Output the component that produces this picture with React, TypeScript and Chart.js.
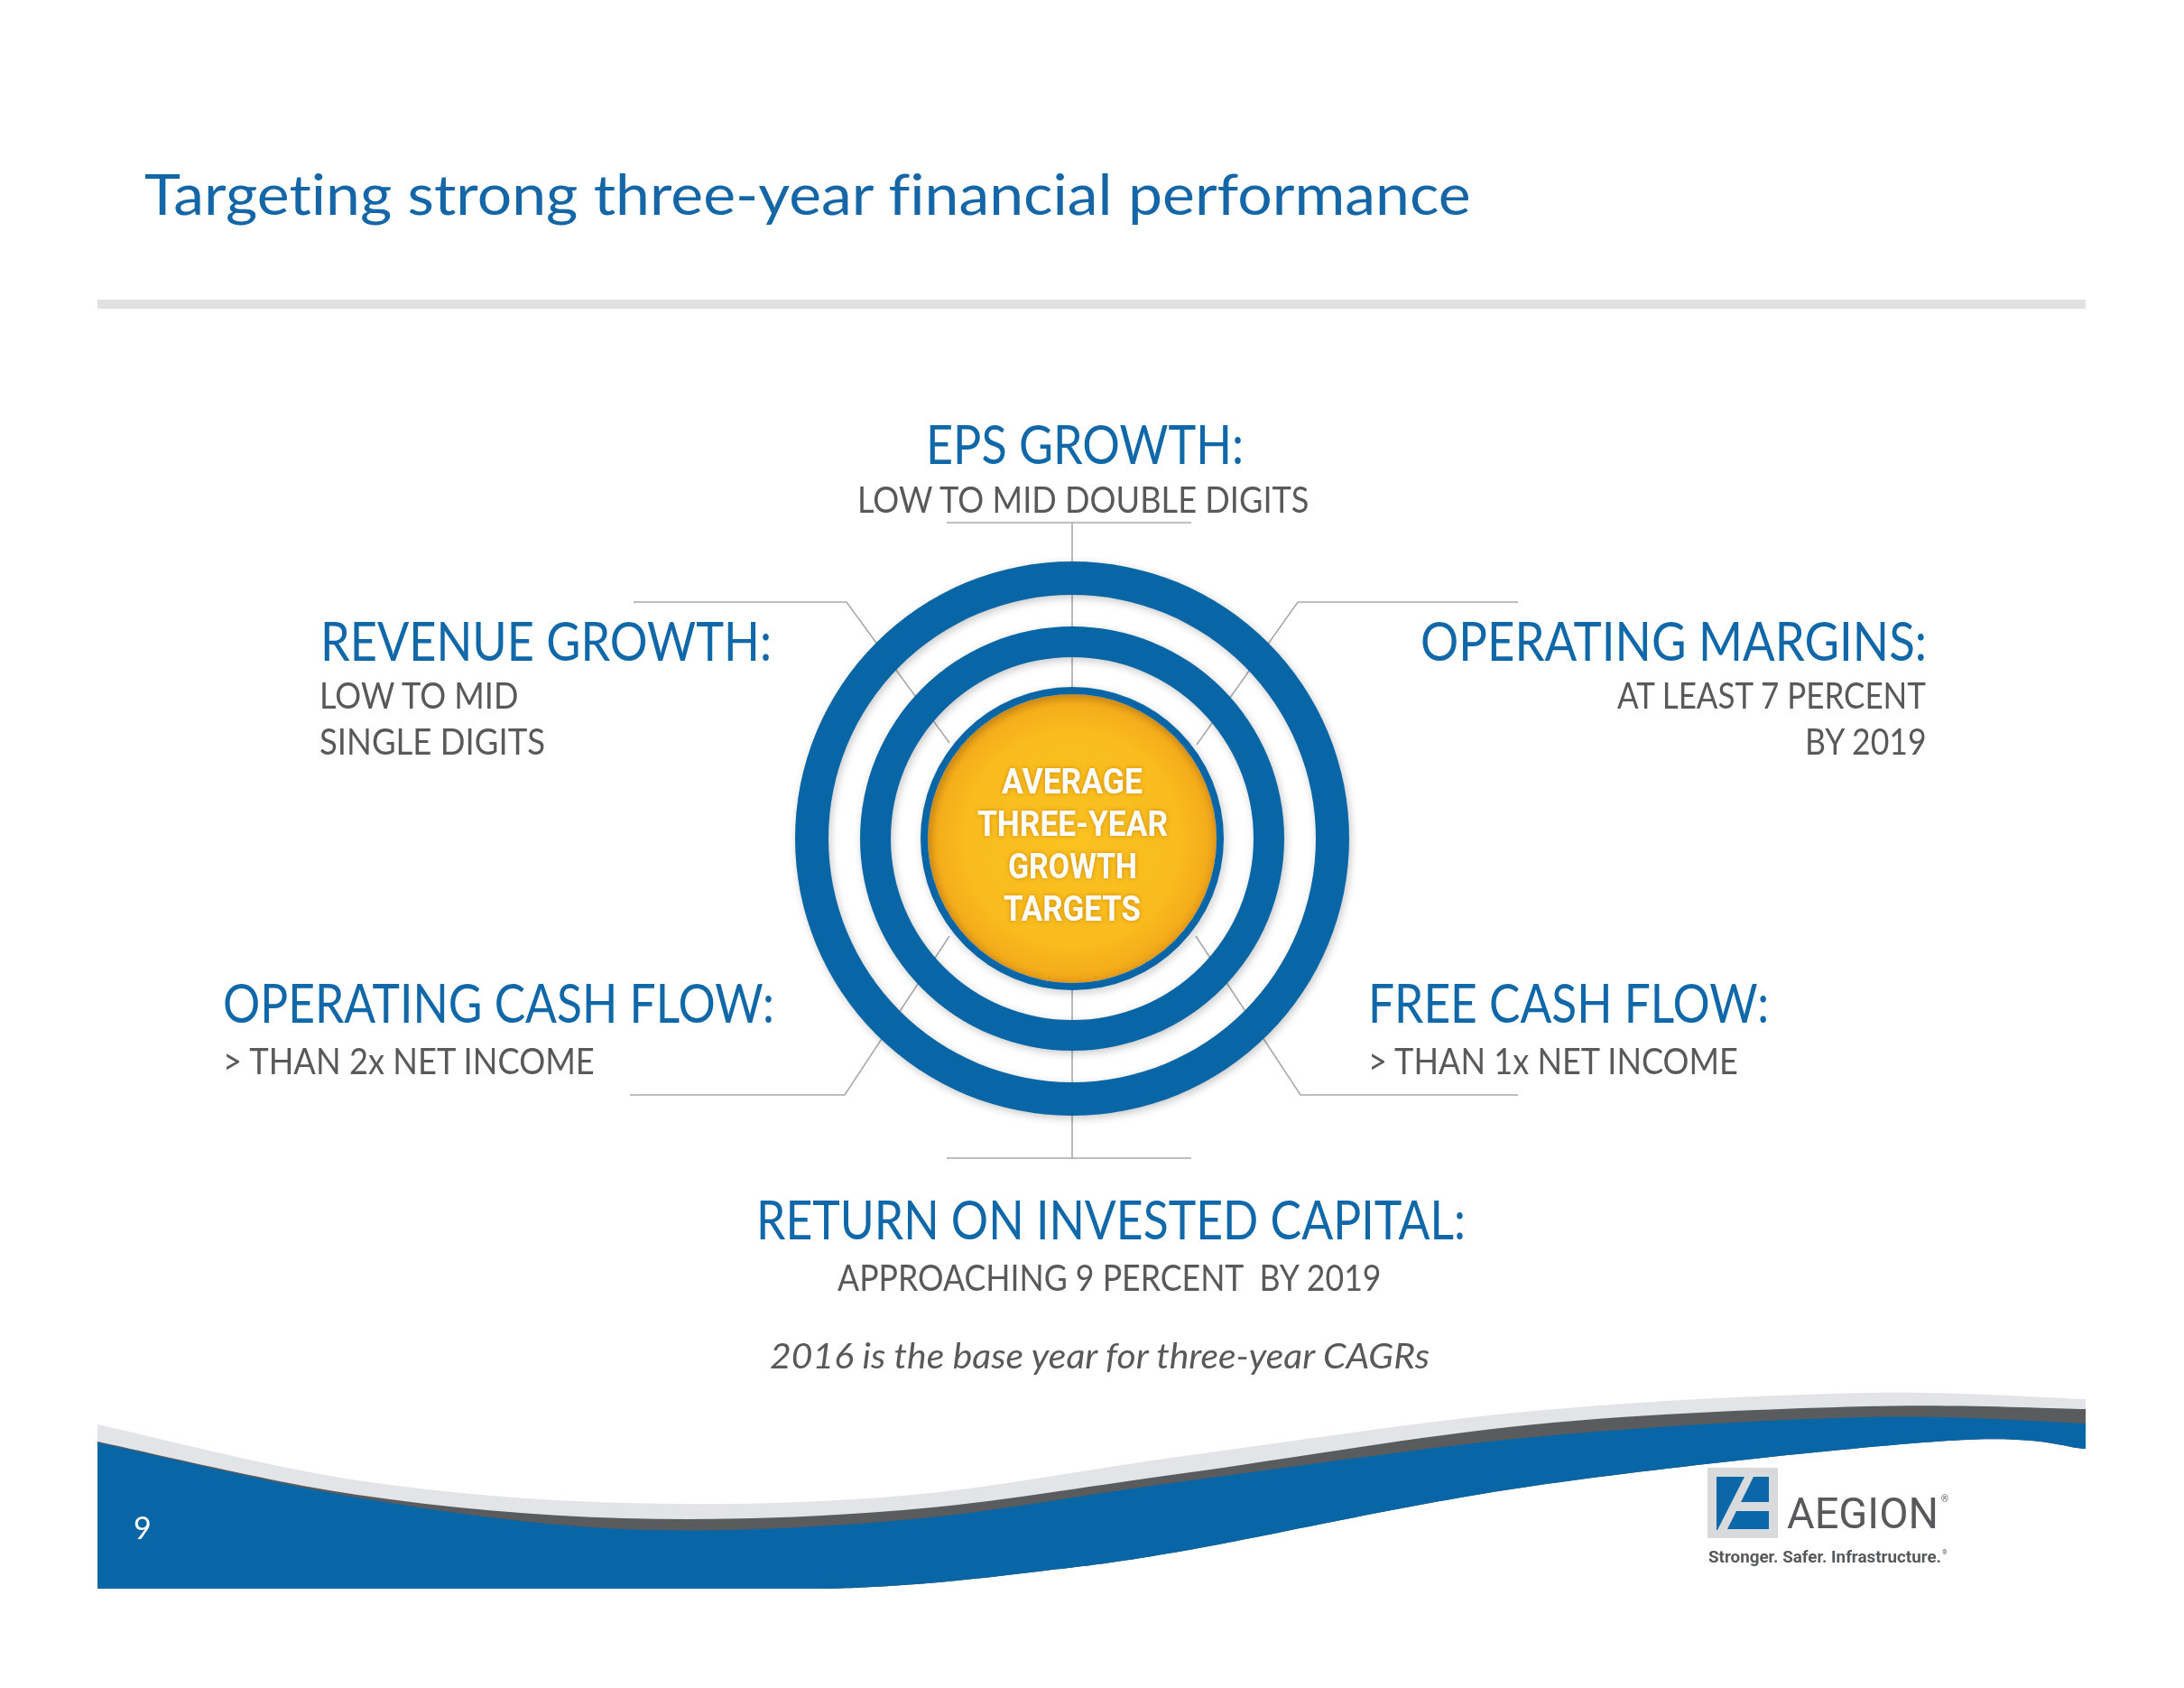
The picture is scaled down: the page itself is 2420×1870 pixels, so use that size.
import React, { useEffect, useRef } from 'react';
import { Chart, registerables } from 'chart.js';

Chart.register(...registerables);

const PAGE_W = 2420;
const PAGE_H = 1870;

// ---------------- data ----------------
const slideTitle = 'Targeting strong three-year financial performance';
const targetNames = [
  'EPS GROWTH:',
  'REVENUE GROWTH:',
  'OPERATING MARGINS:',
  'OPERATING CASH FLOW:',
  'FREE CASH FLOW:',
  'RETURN ON INVESTED CAPITAL:',
];
const targetDetails = [
  ['LOW TO MID DOUBLE DIGITS'],
  ['LOW TO MID', 'SINGLE DIGITS'],
  ['AT LEAST 7 PERCENT', 'BY 2019'],
  ['> THAN 2x NET INCOME'],
  ['> THAN 1x NET INCOME'],
  ['APPROACHING 9 PERCENT  BY 2019'],
];
const centerLines = ['AVERAGE', 'THREE-YEAR', 'GROWTH', 'TARGETS'];
const footnote = '2016 is the base year for three-year CAGRs';
const pageNumber = '9';
const logoName = 'AEGION';
const logoTagline = 'Stronger. Safer. Infrastructure.';

// concentric target rings (outermost first); each ring is one full-circle slice
const ringNames = ['Outer ring', 'Outer gap', 'Middle ring', 'Inner gap', 'Core rim', 'Core'];
const ringValues = [1, 1, 1, 1, 1, 1];
const ringWeights = [37, 35, 34, 33, 8, 160];

// ---------------- layout / style ----------------
const BLUE = '#0866A6';
const HEAD_BLUE = '#1068A8';
const GRAY_TEXT = '#595959';
const ringColors = [BLUE, 'rgba(0,0,0,0)', BLUE, 'rgba(0,0,0,0)', BLUE, 'core'];

type Align = 'left' | 'center' | 'right';
const headLayout: { x: number; base: number; w: number; align: Align }[] = [
  { x: 1202, base: 514, w: 352, align: 'center' },
  { x: 355, base: 732, w: 500, align: 'left' },
  { x: 2135, base: 732, w: 561, align: 'right' },
  { x: 247, base: 1133, w: 611, align: 'left' },
  { x: 1516, base: 1133, w: 444, align: 'left' },
  { x: 1231, base: 1373, w: 786, align: 'center' },
];
const detailLayout: { x: number; base: number; w: number; align: Align }[][] = [
  [{ x: 1201, base: 568, w: 502, align: 'center' }],
  [
    { x: 354, base: 785, w: 222, align: 'left' },
    { x: 354, base: 836, w: 250, align: 'left' },
  ],
  [
    { x: 2136, base: 785, w: 344, align: 'right' },
    { x: 2136, base: 836, w: 136, align: 'right' },
  ],
  [{ x: 247, base: 1190, w: 414, align: 'left' }],
  [{ x: 1516, base: 1190, w: 412, align: 'left' }],
  [{ x: 1230, base: 1430, w: 605, align: 'center' }],
];
const centerLayout = [
  { base: 879, w: 156 },
  { base: 926, w: 211 },
  { base: 973, w: 143 },
  { base: 1020, w: 152 },
];

// connector polylines, offsets from ring centre
const connectorPaths: number[][][] = [
  [[-139, -350], [132, -350]],
  [[0, -350], [0, 354]],
  [[-139, 354], [132, 354]],
  [[-486, -262], [-250, -262], [-136, -106]],
  [[494, -262], [250, -262], [138, -104]],
  [[-490, 284], [-252, 284], [-136, 108]],
  [[494, 284], [253, 284], [137, 108]],
];

// footer wave outlines (page coordinates)
const waveLightTop = [[108, 1578], [396, 1640], [692, 1665], [1000, 1657], [1312, 1613], [1700, 1563], [2067, 1543], [2311, 1550]];
const waveDarkTop = [[108, 1597], [396, 1656], [692, 1682], [1000, 1673], [1312, 1632], [1700, 1578], [2067, 1558], [2311, 1561]];
const waveBlueTop = [[108, 1598], [396, 1659], [692, 1694], [1000, 1684], [1312, 1641], [1700, 1592], [2067, 1570], [2311, 1577]];
const waveBottom = [[108, 1762], [500, 1762], [850, 1761], [1000, 1756], [1150, 1741], [1312, 1718], [1700, 1646], [2159, 1596], [2311, 1605]];

// ---------------- helpers ----------------
let measureCtx: CanvasRenderingContext2D | null = null;
function measure(font: string, text: string) {
  if (!measureCtx) measureCtx = document.createElement('canvas').getContext('2d');
  measureCtx!.font = font;
  return measureCtx!.measureText(text);
}

function SlideText(props: {
  text: string; x: number; base: number; w?: number; align?: Align;
  family: string; size: number; weight?: number; italic?: boolean; color: string; shadow?: string;
}) {
  const { text, x, base, w, align = 'left', family, size, weight = 400, italic = false, color, shadow } = props;
  const font = `${italic ? 'italic ' : ''}${weight} ${size}px ${family}`;
  const m = measure(font, text);
  const natural = m.width || 1;
  const target = w ?? natural;
  const sx = target / natural;
  const asc = (m as any).fontBoundingBoxAscent ?? size * 0.95;
  const desc = (m as any).fontBoundingBoxDescent ?? size * 0.25;
  const left = align === 'left' ? x : align === 'right' ? x - target : x - target / 2;
  return (
    <div
      style={{
        position: 'absolute',
        left,
        top: base - asc,
        height: asc + desc,
        fontFamily: family,
        fontSize: size,
        fontWeight: weight,
        fontStyle: italic ? 'italic' : 'normal',
        fontVariantLigatures: 'none',
        lineHeight: `${asc + desc}px`,
        whiteSpace: 'pre',
        color,
        transform: `scaleX(${sx})`,
        transformOrigin: '0 0',
        textShadow: shadow,
      }}
    >
      {text}
    </div>
  );
}

function smoothTo(ctx: CanvasRenderingContext2D, pts: number[][], move: boolean) {
  if (move) ctx.moveTo(pts[0][0], pts[0][1]);
  else ctx.lineTo(pts[0][0], pts[0][1]);
  for (let i = 0; i < pts.length - 1; i++) {
    const p0 = pts[i - 1] || pts[i];
    const p1 = pts[i];
    const p2 = pts[i + 1];
    const p3 = pts[i + 2] || p2;
    ctx.bezierCurveTo(
      p1[0] + (p2[0] - p0[0]) / 6, p1[1] + (p2[1] - p0[1]) / 6,
      p2[0] - (p3[0] - p1[0]) / 6, p2[1] - (p3[1] - p1[1]) / 6,
      p2[0], p2[1]
    );
  }
}

function band(ctx: CanvasRenderingContext2D, top: number[][], color: string) {
  ctx.beginPath();
  smoothTo(ctx, top, true);
  smoothTo(ctx, [...waveBottom].reverse(), false);
  ctx.closePath();
  ctx.fillStyle = color;
  ctx.fill();
}

function poly(ctx: CanvasRenderingContext2D, pts: number[][], color: string) {
  ctx.beginPath();
  ctx.moveTo(pts[0][0], pts[0][1]);
  for (let i = 1; i < pts.length; i++) ctx.lineTo(pts[i][0], pts[i][1]);
  ctx.closePath();
  ctx.fillStyle = color;
  ctx.fill();
}

const decorPlugin = {
  id: 'slideDecor',
  beforeDraw(chart: any) {
    const ctx: CanvasRenderingContext2D = chart.ctx;
    ctx.save();
    ctx.fillStyle = '#FFFFFF';
    ctx.fillRect(0, 0, PAGE_W, PAGE_H);
    // header rule
    ctx.fillStyle = '#E1E1E1';
    ctx.fillRect(108, 332, 2203, 10);
    // footer wave
    ctx.save();
    ctx.beginPath();
    ctx.rect(108, 1400, 2203, 360);
    ctx.clip();
    band(ctx, waveLightTop, '#E2E4E7');
    band(ctx, waveDarkTop, '#5A5B5D');
    band(ctx, waveBlueTop, BLUE);
    ctx.restore();
    // logo mark
    ctx.fillStyle = '#D9DADC';
    ctx.fillRect(1892, 1626, 78, 78);
    poly(ctx, [[1902, 1636], [1933, 1636], [1903, 1695], [1902, 1695]], '#0B67A8');
    poly(ctx, [[1943, 1636], [1960, 1636], [1960, 1664], [1929, 1664]], '#0B67A8');
    poly(ctx, [[1924, 1674], [1960, 1674], [1960, 1694], [1914, 1694]], '#0B67A8');
    ctx.restore();
  },
  beforeDatasetsDraw(chart: any) {
    const arc = chart.getDatasetMeta(0).data[0];
    if (!arc) return;
    const cx = arc.x;
    const cy = arc.y;
    const ctx: CanvasRenderingContext2D = chart.ctx;
    ctx.save();
    ctx.strokeStyle = '#A9A9A9';
    ctx.lineWidth = 1.6;
    connectorPaths.forEach((path) => {
      ctx.beginPath();
      path.forEach((p, i) => {
        if (i === 0) ctx.moveTo(cx + p[0], cy + p[1]);
        else ctx.lineTo(cx + p[0], cy + p[1]);
      });
      ctx.stroke();
    });
    ctx.restore();
  },
  beforeDatasetDraw(chart: any, args: any) {
    if (ringColors[args.index] === BLUE) {
      const ctx = chart.ctx;
      ctx.save();
      ctx.shadowColor = 'rgba(0,0,0,0.22)';
      ctx.shadowBlur = 10;
      ctx.shadowOffsetX = 2;
      ctx.shadowOffsetY = 3;
    }
  },
  afterDatasetDraw(chart: any, args: any) {
    if (ringColors[args.index] === BLUE) chart.ctx.restore();
  },
};

export default function App() {
  const canvasRef = useRef<HTMLCanvasElement | null>(null);

  useEffect(() => {
    const canvas = canvasRef.current;
    if (!canvas) return;
    const totalWeight = ringWeights.reduce((a, b) => a + b, 0);
    const coreRadius = ringWeights[ringWeights.length - 1];
    const chart = new Chart(canvas, {
      type: 'doughnut',
      data: {
        labels: ['Average three-year growth targets'],
        datasets: ringNames.map((name, i) => ({
          label: name,
          data: [ringValues[i]],
          weight: ringWeights[i],
          borderWidth: 0,
          hoverOffset: 0,
          backgroundColor:
            ringColors[i] === 'core'
              ? (c: any) => {
                  const area = c.chart.chartArea;
                  if (!area) return '#F8B91D';
                  const x = (area.left + area.right) / 2;
                  const y = (area.top + area.bottom) / 2;
                  const g = c.chart.ctx.createRadialGradient(x, y, 0, x, y, coreRadius);
                  g.addColorStop(0, '#FBC220');
                  g.addColorStop(0.75, '#F9BB1D');
                  g.addColorStop(0.93, '#F4AE1B');
                  g.addColorStop(1, '#EC9F19');
                  return g;
                }
              : ringColors[i],
        })) as any,
      },
      options: {
        responsive: false,
        animation: false,
        events: [],
        radius: totalWeight,
        cutout: 0,
        layout: { padding: { left: 600, right: 644, top: 500, bottom: 512 } },
        plugins: {
          legend: { display: false },
          tooltip: { enabled: false },
          title: { display: false },
        },
      } as any,
      plugins: [decorPlugin],
    });
    return () => chart.destroy();
  }, []);

  const texts: React.ReactNode[] = [];
  texts.push(
    <SlideText key="title" text={slideTitle} x={160} base={238} w={1471} family="Lato" size={62} color="#1466A6" />
  );
  targetNames.forEach((name, i) => {
    const l = headLayout[i];
    texts.push(
      <SlideText key={'h' + i} text={name} x={l.x} base={l.base} w={l.w} align={l.align} family="Lato" size={60} color={HEAD_BLUE} />
    );
    targetDetails[i].forEach((line, j) => {
      const d = detailLayout[i][j];
      texts.push(
        <SlideText key={'d' + i + '-' + j} text={line} x={d.x} base={d.base} w={d.w} align={d.align} family="Lato" size={40} color={GRAY_TEXT} />
      );
    });
  });
  centerLines.forEach((line, i) => {
    const c = centerLayout[i];
    texts.push(
      <SlideText key={'c' + i} text={line} x={1188} base={c.base} w={c.w} align="center" family="Roboto" size={39} weight={700} color="#FFFFFF" shadow="0 0 6px rgba(170,100,0,0.55)" />
    );
  });
  texts.push(
    <SlideText key="foot" text={footnote} x={1220} base={1516} w={735} align="center" family="Lato" size={39} italic color={GRAY_TEXT} />
  );
  texts.push(
    <SlideText key="page" text={pageNumber} x={148} base={1705} family="Lato" size={34} color="#FFFFFF" />
  );
  texts.push(
    <SlideText key="logo" text={logoName} x={1980} base={1693} w={168} family="Roboto" size={49} color="#58595B" />
  );
  texts.push(
    <SlideText key="reg" text="®" x={2151} base={1664} family="Roboto" size={10} color="#58595B" />
  );
  texts.push(
    <SlideText key="tag" text={logoTagline} x={1893} base={1731} w={258} family="Roboto" size={18} weight={700} color="#58595B" />
  );
  texts.push(
    <SlideText key="reg2" text="®" x={2152} base={1722} family="Roboto" size={7} color="#58595B" />
  );

  return (
    <div style={{ position: 'absolute', left: 0, top: 0, width: PAGE_W, height: PAGE_H, background: '#FFFFFF', overflow: 'hidden' }}>
      <canvas ref={canvasRef} width={PAGE_W} height={PAGE_H} style={{ position: 'absolute', left: 0, top: 0, width: PAGE_W, height: PAGE_H }} />
      {texts}
    </div>
  );
}
